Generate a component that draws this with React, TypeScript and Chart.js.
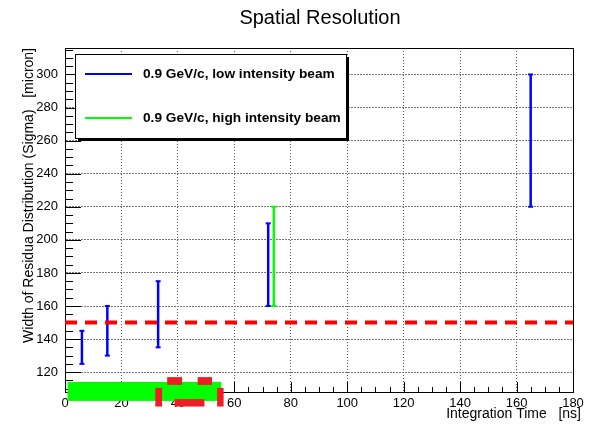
import React, { useEffect, useRef } from "react";
import { Chart, registerables } from "chart.js";

Chart.register(...registerables);

// ---- data ----
const titleText = "Spatial Resolution";
const xTitle = "Integration Time   [ns]";
const yTitle = "Width of Residua Distribution (Sigma)   [micron]";
const legendLabels = ["0.9 GeV/c, low intensity beam", "0.9 GeV/c, high intensity beam"];

const xRange = [0, 180];
const yRange = [108, 316];
const xMajorTicks = [0, 20, 40, 60, 80, 100, 120, 140, 160, 180];
const yMajorTicks = [120, 140, 160, 180, 200, 220, 240, 260, 280, 300];

const lowX = [6, 15, 33, 72, 165];
const lowLo = [125, 130, 135, 160, 220];
const lowHi = [145, 160, 175, 210, 300];

const highX = [74];
const highLo = [160];
const highHi = [220];

const refLineX = [0, 180];
const refLineY = 150;

// stray filled boxes near the origin (data coords)
const greenBoxX = [0.9, 55.4];
const greenBoxY = [102.6, 114.1];
const redBoxX0 = [36.2, 47.0, 38.8, 32.0, 53.9];
const redBoxX1 = [41.5, 52.1, 49.4, 34.4, 56.2];
const redBoxY0 = [112.3, 112.3, 99.2, 99.2, 99.2];
const redBoxY1 = [117.0, 117.0, 103.7, 110.5, 110.5];

const BLUE = "#0000ff";
const GREEN = "#00ff00";
const RED = "#ff0000";
const FONT = "'Liberation Sans', Arial, sans-serif";

function errorDatasets(xs: number[], lo: number[], hi: number[], color: string) {
  return xs.map((x, i) => ({
    data: [
      { x, y: lo[i] },
      { x, y: hi[i] },
    ],
    showLine: true,
    borderColor: color,
    backgroundColor: color,
    borderWidth: 2.5,
    pointStyle: "line" as const,
    pointRadius: 2.5,
    pointBorderWidth: 2,
    pointBorderColor: color,
    pointHoverRadius: 2.5,
  }));
}

const rootDecor = {
  id: "rootDecor",
  beforeDatasetsDraw(chart: any) {
    const { ctx, chartArea } = chart;
    const { left, right, top, bottom } = chartArea;
    const xs = chart.scales.x;
    const ys = chart.scales.y;
    ctx.save();
    ctx.strokeStyle = "#000";
    ctx.lineWidth = 1;
    ctx.setLineDash([]);
    for (let v = 110; v <= yRange[1]; v += 5) {
      const py = Math.round(ys.getPixelForValue(v)) + 0.5;
      const len = v % 20 === 0 ? 16 : 8;
      ctx.beginPath();
      ctx.moveTo(left, py);
      ctx.lineTo(left + len, py);
      ctx.stroke();
    }
    for (let v = xRange[0]; v <= xRange[1]; v += 5) {
      const px = Math.round(xs.getPixelForValue(v)) + 0.5;
      const len = v % 20 === 0 ? 10 : 5;
      ctx.beginPath();
      ctx.moveTo(px, bottom);
      ctx.lineTo(px, bottom - len);
      ctx.stroke();
    }
    ctx.beginPath();
    ctx.moveTo(left, Math.round(top) + 0.5);
    ctx.lineTo(Math.round(right) + 0.5, Math.round(top) + 0.5);
    ctx.lineTo(Math.round(right) + 0.5, bottom);
    ctx.stroke();
    ctx.restore();
  },
  afterDraw(chart: any) {
    const { ctx } = chart;
    const xs = chart.scales.x;
    const ys = chart.scales.y;
    ctx.save();
    ctx.fillStyle = GREEN;
    {
      const x0 = xs.getPixelForValue(greenBoxX[0]);
      const x1 = xs.getPixelForValue(greenBoxX[1]);
      const y0 = ys.getPixelForValue(greenBoxY[1]);
      const y1 = ys.getPixelForValue(greenBoxY[0]);
      ctx.fillRect(x0, y0, x1 - x0, y1 - y0);
    }
    ctx.fillStyle = "#ee1c24";
    for (let i = 0; i < redBoxX0.length; i++) {
      const x0 = xs.getPixelForValue(redBoxX0[i]);
      const x1 = xs.getPixelForValue(redBoxX1[i]);
      const y0 = ys.getPixelForValue(redBoxY1[i]);
      const y1 = ys.getPixelForValue(redBoxY0[i]);
      ctx.fillRect(x0, y0, x1 - x0, y1 - y0);
    }

    // legend box
    const lx = 75, ly = 54, lw = 271, lh = 84;
    ctx.fillStyle = "#000";
    ctx.fillRect(lx + 3, ly + lh, lw, 3);
    ctx.fillRect(lx + lw, ly + 3, 3, lh);
    ctx.fillStyle = "#fff";
    ctx.fillRect(lx, ly, lw, lh);
    ctx.strokeStyle = "#000";
    ctx.lineWidth = 1;
    ctx.strokeRect(lx + 0.5, ly + 0.5, lw, lh);
    const rows = [74, 118];
    const cols = [BLUE, GREEN];
    rows.forEach((ry, i) => {
      ctx.strokeStyle = cols[i];
      ctx.lineWidth = 2;
      ctx.beginPath();
      ctx.moveTo(85, ry);
      ctx.lineTo(132, ry);
      ctx.stroke();
      ctx.fillStyle = "#000";
      ctx.font = `bold 13.7px ${FONT}`;
      ctx.textAlign = "left";
      ctx.textBaseline = "middle";
      ctx.fillText(legendLabels[i], 143, ry);
    });

    ctx.fillStyle = "#000";
    ctx.font = `20px ${FONT}`;
    ctx.textAlign = "center";
    ctx.textBaseline = "alphabetic";
    ctx.fillText(titleText, 320, 24);

    ctx.font = `14px ${FONT}`;
    ctx.textAlign = "right";
    ctx.textBaseline = "middle";
    ctx.fillText(xTitle, 581, 414);

    ctx.save();
    ctx.translate(29, 48);
    ctx.rotate(-Math.PI / 2);
    ctx.textAlign = "right";
    ctx.textBaseline = "middle";
    ctx.fillText(yTitle, 0, 0);
    ctx.restore();

    ctx.restore();
  },
};

export default function App() {
  const ref = useRef<HTMLCanvasElement | null>(null);
  useEffect(() => {
    if (!ref.current) return;
    const datasets: any[] = [
      {
        data: refLineX.map((x) => ({ x, y: refLineY })),
        showLine: true,
        borderColor: RED,
        borderWidth: 4,
        borderDash: [12, 8],
        pointRadius: 0,
        pointHoverRadius: 0,
      },
      ...errorDatasets(lowX, lowLo, lowHi, BLUE),
      ...errorDatasets(highX, highLo, highHi, GREEN),
    ];
    const chart = new Chart(ref.current, {
      type: "scatter",
      data: { datasets },
      options: {
        animation: false,
        responsive: false,
        events: [],
        layout: { padding: { top: 48, right: 18, left: 0, bottom: 0 } },
        plugins: {
          legend: { display: false },
          title: { display: false },
          tooltip: { enabled: false },
        },
        scales: {
          x: {
            type: "linear",
            min: xRange[0],
            max: xRange[1],
            afterBuildTicks: (s: any) => {
              s.ticks = xMajorTicks.map((v) => ({ value: v }));
            },
            afterFit: (s: any) => {
              s.height = 32;
            },
            grid: { color: "#555", lineWidth: 1, drawTicks: false },
            border: { display: true, color: "#000", width: 1, dash: [1, 2] },
            ticks: {
              padding: 4,
              color: "#000",
              font: { family: FONT, size: 13 },
              maxRotation: 0,
              autoSkip: false,
            },
          },
          y: {
            type: "linear",
            min: yRange[0],
            max: yRange[1],
            afterBuildTicks: (s: any) => {
              s.ticks = yMajorTicks.map((v) => ({ value: v }));
            },
            afterFit: (s: any) => {
              s.width = 65;
            },
            grid: { color: "#777", lineWidth: 1, drawTicks: false },
            border: { display: true, color: "#000", width: 1, dash: [2, 1] },
            ticks: {
              padding: 7,
              color: "#000",
              font: { family: FONT, size: 13 },
              autoSkip: false,
            },
          },
        },
      },
      plugins: [rootDecor],
    });
    return () => chart.destroy();
  }, []);
  return (
    <div style={{ position: "absolute", left: 0, top: 0, width: 591, height: 424, background: "#fff" }}>
      <canvas ref={ref} width={591} height={424} style={{ width: 591, height: 424 }} />
    </div>
  );
}
